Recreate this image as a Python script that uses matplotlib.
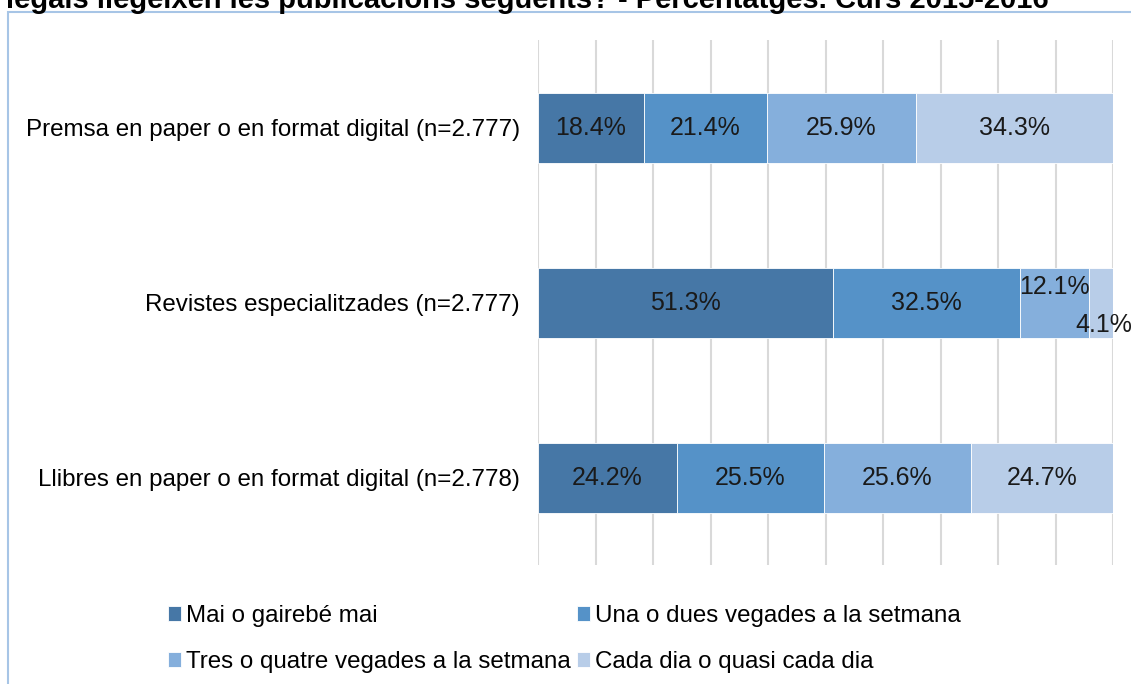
import matplotlib
matplotlib.use("Agg")
import matplotlib.pyplot as plt
from matplotlib.patches import Rectangle
import numpy as np

plt.rcParams['font.family'] = ['Liberation Sans', 'DejaVu Sans']

title = "legals llegeixen les publicacions següents? - Percentatges. Curs 2015-2016"
categories = ["Premsa en paper o en format digital (n=2.777)",
              "Revistes especialitzades (n=2.777)",
              "Llibres en paper o en format digital (n=2.778)"]
series_names = ["Mai o gairebé mai",
                "Una o dues vegades a la setmana",
                "Tres o quatre vegades a la setmana",
                "Cada dia o quasi cada dia"]
values = [
    [18.4, 51.3, 24.2],
    [21.4, 32.5, 25.5],
    [25.9, 12.1, 25.6],
    [34.3, 4.1, 24.7],
]
colors = ["#4677A6", "#5592C8", "#85AFDC", "#B8CDE8"]

W, H = 1131, 684
fig = plt.figure(figsize=(W / 100, H / 100), dpi=100)

# frame border (open at bottom / right)
fig.patches.append(Rectangle((8 / W, -0.1), 1.2, 1 - 12 / H + 0.1,
                             transform=fig.transFigure, fill=False,
                             edgecolor="#A7C5E6", linewidth=1.5))
fig.text(6 / W, 1 - 8 / H, title, va="baseline", ha="left",
         fontsize=21, fontweight="bold", color="black")

ax = fig.add_axes([538 / W, 1 - 565 / H, (1113 - 538) / W, (565 - 40) / H])
y = np.arange(len(categories))
left = np.zeros(len(categories))
bars = []
for name, vals, c in zip(series_names, values, colors):
    b = ax.barh(y, vals, left=left, height=0.4, color=c, edgecolor="white",
                linewidth=0.6, label=name, zorder=3)
    bars.append(b)
    for i, v in enumerate(vals):
        cx = left[i] + v / 2
        cy = y[i]
        if v < 10:
            cx = left[i] + v / 2 + 0.4
            cy = y[i] + 0.13
        elif v < 13:
            cy = y[i] - 0.09
        ax.text(cx, cy, f"{v:.1f}%", ha="center", va="center",
                fontsize=18, color="#1a1a1a", zorder=4, clip_on=False)
    left = left + np.array(vals)

ax.set_xlim(0, 100)
ax.set_ylim(len(categories) - 0.5, -0.5)
ax.set_yticks(y)
ax.set_yticklabels(categories, fontsize=17.4)
ax.set_xticks(np.arange(0, 101, 10))
ax.tick_params(axis="y", length=0, pad=13)
ax.tick_params(axis="x", length=0, labelbottom=False)
ax.grid(axis="x", color="#D9D9D9", linewidth=1.5, zorder=0)
for s in ax.spines.values():
    s.set_visible(False)

order = [0, 2, 1, 3]
fig.legend(handles=[bars[i] for i in order],
           labels=[series_names[i] for i in order], loc="upper left",
           bbox_to_anchor=(168 / W, 1 - 605 / H), ncol=2, frameon=False,
           fontsize=17.4, handlelength=0.55, handleheight=0.55, handletextpad=0.2,
           columnspacing=0.25, labelspacing=1.0, borderaxespad=0, borderpad=0)

fig.savefig("out.png", dpi=100)
